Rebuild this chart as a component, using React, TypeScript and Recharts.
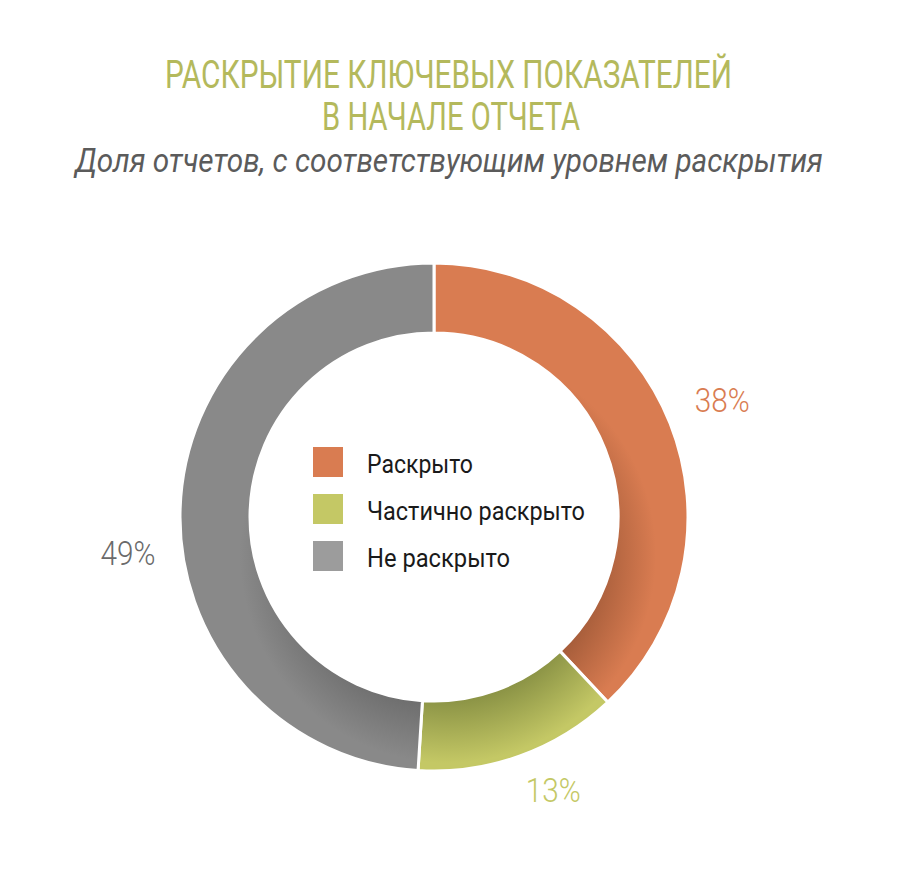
import React from 'react';
import { PieChart, Pie, Cell, Legend } from 'recharts';

// disclosure levels, share of reports (%)
const categories = ['Раскрыто', 'Частично раскрыто', 'Не раскрыто'];
const shares = [38, 13, 49];

const sliceColors = ['#D97C51', '#C4C865', '#898989'];
const shadowColors = ['#A35B39', '#8C9446', '#6C6C6C'];
const legendColors = ['#D97C51', '#C4C865', '#9C9C9C'];
const labelColors = ['#D97C51', '#C4C865', '#6A6A6A'];

const titleLines = ['РАСКРЫТИЕ КЛЮЧЕВЫХ ПОКАЗАТЕЛЕЙ', 'В НАЧАЛЕ ОТЧЕТА'];
const subtitle = 'Доля отчетов, с соответствующим уровнем раскрытия';

const pieData = categories.map((name, i) => ({ name, value: shares[i] }));

const CX = 426;
const CY = 509;
const RADIAN = Math.PI / 180;
const FONT = 'Roboto, "Liberation Sans", sans-serif';

// the original places its labels a little off the mid angle
const labelAngleShift = [0.5, 3.8, 8.5];
const labelRadius = [311, 298, 308];

// label widths mimic the condensed typeface of the original
const PctLabel = ({ cx, cy, midAngle, index, value }: any) => {
    const r = labelRadius[index];
    const a = (midAngle + labelAngleShift[index]) * RADIAN;
    const x = cx + r * Math.cos(-a);
    const y = cy + r * Math.sin(-a);
    return (
        <text x={x} y={y + 12} textAnchor="middle" fill={labelColors[index]} fontFamily={FONT} fontWeight={300}
            fontSize={33} textLength={55} lengthAdjust="spacingAndGlyphs">
            {`${value}%`}
        </text>
    );
};

const legendWidths = [106, 218, 143];

const CenterLegend = () => (
    <svg width={300} height={140}>
        {categories.map((name, i) => (
            <g key={name} transform={`translate(0, ${i * 47})`}>
                <rect x={0} y={0} width={30} height={30} fill={legendColors[i]} />
                <text x={54} y={26} fill="#1A1A1A" fontFamily={FONT} fontSize={25}
                    textLength={legendWidths[i]} lengthAdjust="spacingAndGlyphs">{name}</text>
            </g>
        ))}
    </svg>
);

export default function App() {
    return (
        <div style={{ position: 'relative', width: 904, height: 874, background: '#fff' }}>
            <div style={{ position: 'absolute', left: 0, top: 0 }}>
                <PieChart width={904} height={874} margin={{ top: 0, right: 0, bottom: 0, left: 0 }}>
                    <Pie
                        data={pieData}
                        dataKey="value"
                        nameKey="name"
                        cx={CX}
                        cy={CY}
                        innerRadius={184}
                        outerRadius={254}
                        startAngle={90}
                        endAngle={-270}
                        stroke="#FFFFFF"
                        strokeWidth={3}
                        label={PctLabel}
                        labelLine={false}
                        isAnimationActive={false}
                    >
                        {pieData.map((d, i) => (
                            <Cell key={d.name} fill={`url(#shade${i})`} />
                        ))}
                    </Pie>
                    <Legend content={<CenterLegend />}
                        wrapperStyle={{ position: 'absolute', left: 305, top: 439, width: 300, height: 140 }} />
                </PieChart>
            </div>
            <svg width={904} height={200} style={{ position: 'absolute', left: 0, top: 0, pointerEvents: 'none' }}>
                <defs>
                    {sliceColors.map((c, i) => (
                        <radialGradient key={i} id={`shade${i}`} gradientUnits="userSpaceOnUse" cx={CX + 14} cy={CY + 38} r={260}>
                            <stop offset="0" stopColor={shadowColors[i]} />
                            <stop offset="0.56" stopColor={shadowColors[i]} />
                            <stop offset="0.8" stopColor={c} />
                            <stop offset="1" stopColor={c} />
                        </radialGradient>
                    ))}
                </defs>
                <text x={440.5} y={80} textAnchor="middle" fill="#B4B95C" fontFamily={FONT} fontSize={38}
                    textLength={567} lengthAdjust="spacingAndGlyphs">{titleLines[0]}</text>
                <text x={443} y={122} textAnchor="middle" fill="#B4B95C" fontFamily={FONT} fontSize={38}
                    textLength={258} lengthAdjust="spacingAndGlyphs">{titleLines[1]}</text>
                {/* squeezed horizontally rather than with textLength */}
                <text transform="translate(441, 164) scale(0.874, 1)" textAnchor="middle" fill="#5B5B5B"
                    fontFamily={FONT} fontStyle="italic" fontSize={34}>{subtitle}</text>
            </svg>
        </div>
    );
}
